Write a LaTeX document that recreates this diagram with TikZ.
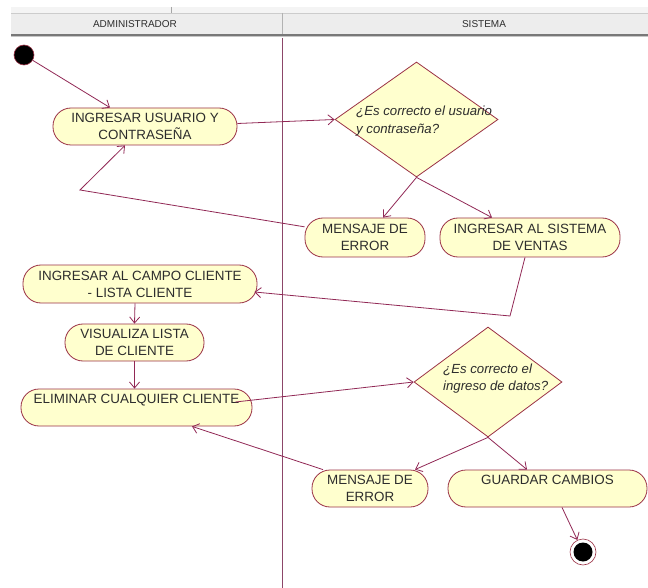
\documentclass[tikz,border=0pt]{standalone}
\usepackage{fontspec}
\setmainfont{Liberation Sans}
\usetikzlibrary{arrows.meta,shapes.geometric}

\definecolor{nodefill}{RGB}{255,255,206}
\definecolor{nodeline}{RGB}{155,50,70}
\definecolor{flow}{RGB}{145,40,85}
\definecolor{lane}{RGB}{140,70,105}
\definecolor{hdrfill}{RGB}{237,237,237}
\definecolor{hdrtop}{RGB}{244,244,244}
\definecolor{hdrline}{RGB}{120,120,120}
\definecolor{ink}{RGB}{45,45,45}

\tikzset{
  activity/.style={draw=nodeline, fill=nodefill, line width=0.8pt,
    rounded corners=18pt, minimum height=37pt, inner sep=0pt, align=center,
    font=\fontsize{13.4}{17}\selectfont, text=ink},
  decision/.style={diamond, draw=nodeline, fill=nodefill, line width=0.8pt,
    inner sep=0pt},
  dtext/.style={font=\fontsize{13.2}{18}\selectfont\itshape, text=ink,
    align=left, inner sep=0pt, anchor=west},
  flowline/.style={draw=flow, line width=0.8pt,
    -{Straight Barb[length=6pt,width=10pt]}},
  lanehead/.style={font=\fontsize{10}{12}\selectfont, text=ink, inner sep=0pt},
  startnode/.style={circle, fill=black, draw=nodeline, line width=0.6pt,
    minimum size=20pt, inner sep=0pt},
  endnode/.style={circle, fill=white, draw=nodeline, line width=0.6pt,
    minimum size=26pt, inner sep=0pt,
    path picture={\fill[black] (path picture bounding box.center) circle (9.5pt);}}
}

\begin{document}
\begin{tikzpicture}[x=1pt,y=-1pt]
  \useasboundingbox (0,0) rectangle (648,588);
  \fill[white] (0,0) rectangle (648,588);

  % swimlane header
  \fill[hdrtop] (11,7) rectangle (648,13);
  \draw[gray!70, line width=0.6pt] (171,7) -- (171,13);
  \fill[hdrfill] (11,13) rectangle (648,34);
  \draw[gray!40, line width=0.5pt] (11,13) -- (648,13);
  \draw[hdrline, line width=2pt] (11,35) -- (648,35);
  \draw[gray!45, line width=1pt] (11,37) -- (648,37);
  \draw[gray!60, line width=0.8pt] (282,13) -- (282,34);
  \draw[lane, line width=0.8pt] (282,38) -- (282,588);
  \node[lanehead] (hadmin) at (135,24) {ADMINISTRADOR};
  \node[lanehead] (hsis) at (484,24) {SISTEMA};

  % activities and decisions
  \node[startnode] (start) at (24,55) {};
  \node[activity, minimum width=184pt] (ingusr) at (145,126.5)
    {INGRESAR USUARIO Y\\CONTRASEÑA};
  \node[decision, minimum width=163pt, minimum height=115pt] (dec1) at (416.5,119.5) {};
  \node[dtext] (dec1txt) at (356,121) {¿Es correcto el usuario\\y contraseña?};
  \node[activity, minimum width=120pt, minimum height=39pt] (men1) at (365,237.5)
    {MENSAJE DE\\ERROR};
  \node[activity, minimum width=180pt, minimum height=39pt] (ventas) at (530,237.5)
    {INGRESAR AL SISTEMA\\DE VENTAS};
  \node[activity, minimum width=234pt, minimum height=38pt] (campo) at (140,284)
    {INGRESAR AL CAMPO CLIENTE\\- LISTA CLIENTE};
  \node[activity, minimum width=139pt] (visual) at (134.5,342.5)
    {VISUALIZA LISTA\\DE CLIENTE};
  \node[activity, minimum width=231pt] (elim) at (136.5,407.5)
    {ELIMINAR CUALQUIER CLIENTE\\\mbox{}};
  \node[decision, minimum width=148pt, minimum height=110pt] (dec2) at (488,382) {};
  \node[dtext, font=\fontsize{13.2}{17}\selectfont\itshape] (dec2txt) at (443,378.5)
    {¿Es correcto el\\ingreso de datos?};
  \node[activity, minimum width=116pt] (men2) at (370,488.5)
    {MENSAJE DE\\ERROR};
  \node[activity, minimum width=199pt] (guardar) at (547.5,488.5)
    {GUARDAR CAMBIOS\\\mbox{}};
  \node[endnode] (end) at (583,552) {};

  % bend points of the return flows
  \coordinate (k1) at (80,190);
  \coordinate (k2) at (510,316);

  % control flows
  \draw[flowline] (start) -- ([xshift=-35pt]ingusr.north);
  \draw[flowline] ([yshift=3pt]ingusr.east) -- (dec1.west);
  \draw[flowline] (dec1.south) -- ([xshift=18pt]men1.north);
  \draw[flowline] (dec1.south) -- ([xshift=-38pt]ventas.north);
  \draw[flowline] (men1.170) -- (k1) -- ([xshift=-20pt]ingusr.south);
  \draw[flowline] ([xshift=-5pt]ventas.south) -- (k2) -- ([xshift=-3pt,yshift=-8pt]campo.east);
  \draw[flowline] ([xshift=-5pt]campo.south) -- (visual.north);
  \draw[flowline] (visual.south) -- (visual.south |- elim.north);
  \draw[flowline] ([xshift=-17pt,yshift=5.5pt]elim.east) -- (dec2.west);
  \draw[flowline] (dec2.south) -- ([xshift=45pt]men2.north);
  \draw[flowline] (dec2.south) -- ([xshift=-20.5pt]guardar.north);
  \draw[flowline] ([xshift=-47pt]men2.north) -- ([xshift=55.5pt]elim.south);
  \draw[flowline] ([xshift=14.5pt]guardar.south) -- (end);
\end{tikzpicture}
\end{document}
